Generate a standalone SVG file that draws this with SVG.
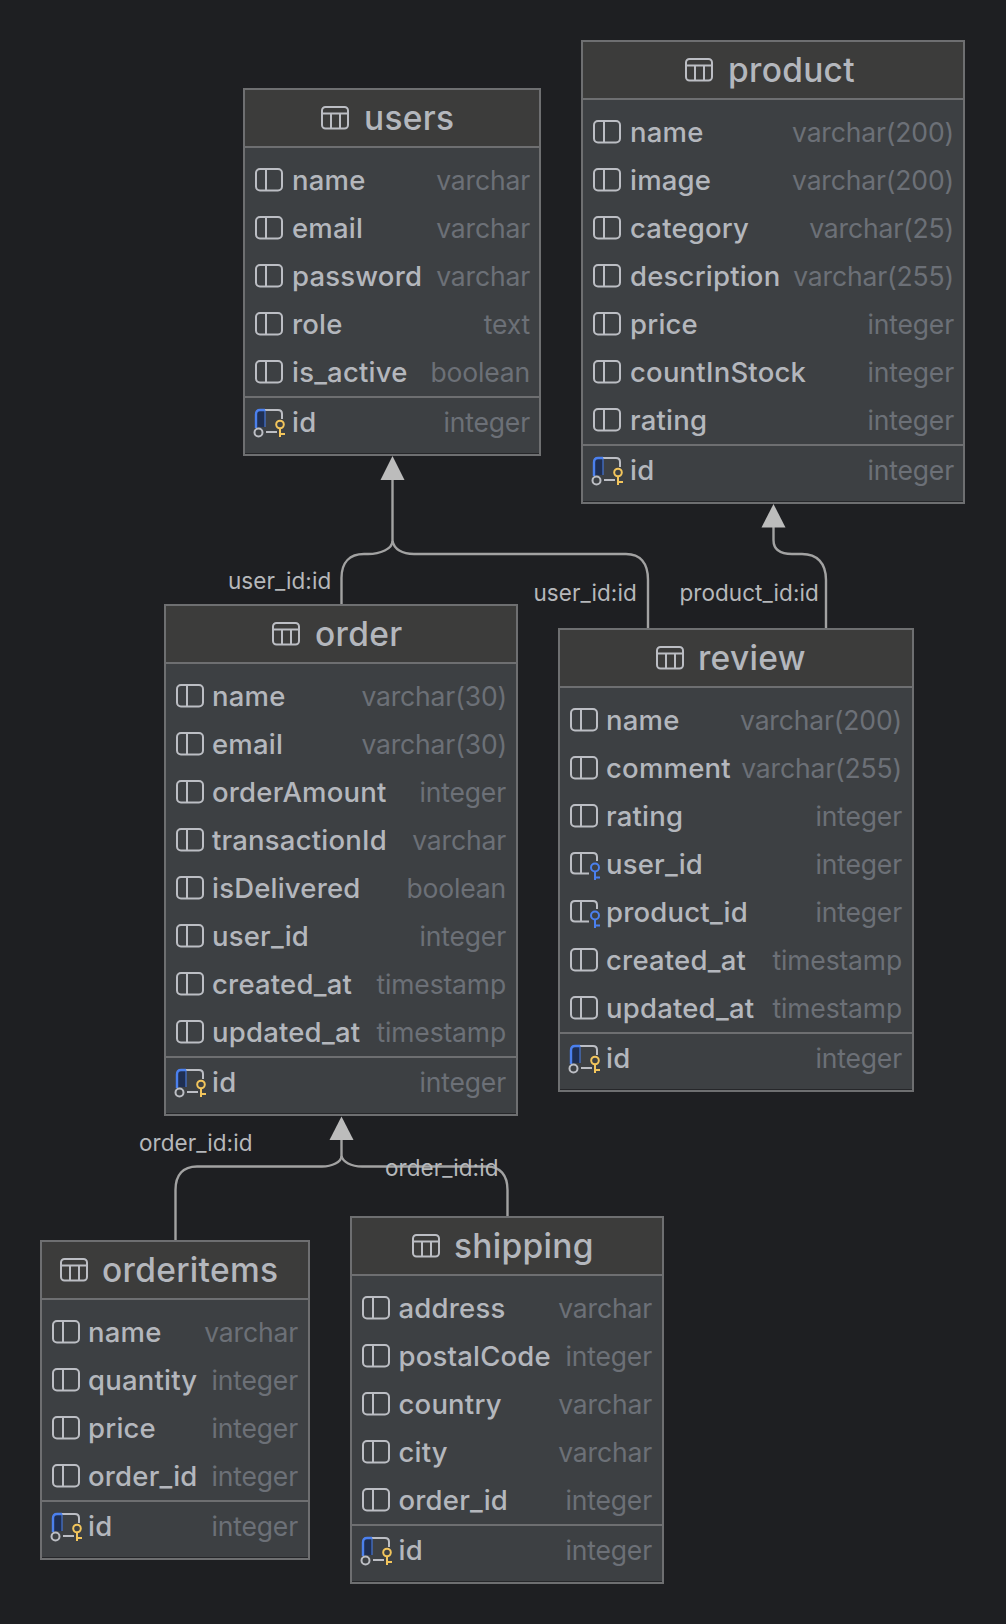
<svg xmlns="http://www.w3.org/2000/svg" width="1006" height="1624" viewBox="0 0 1006 1624">
<style>
text{font-family:Inter,"Liberation Sans",sans-serif}
.box{fill:#3d4043;stroke:#6e6f71;stroke-width:2}
.head{fill:#3c3c3b}
.sep{stroke:#6e6f71;stroke-width:2;fill:none}
.in{stroke:#26272a;stroke-width:1;fill:none}
.title{font-size:33.5px;font-weight:500;fill:#b4b7bd;letter-spacing:.3px}
.n{font-size:27.5px;font-weight:500;fill:#b4b7bd;letter-spacing:.2px}
.t{font-size:26.5px;fill:#6c7077;text-anchor:end;letter-spacing:-.15px}
.ic{fill:none;stroke:#bcbec4;stroke-width:2}
.lbl{font-size:22.5px;fill:#b6b8bb;letter-spacing:.05px}
.edge{fill:none;stroke:#a2a2a2;stroke-width:2.4}
.head-a{fill:#bcbcbc}
</style>
<defs>
<g id="tbl" class="ic"><rect x="1" y="1" width="26" height="21.5" rx="3.5"/><path d="M1 7.500H27M10 7.500V22.500M19 7.500V22.500"/></g>
<g id="col" class="ic"><rect x="1" y="-21" width="26" height="21.500" rx="4"/><path d="M11 -21V0.500"/></g>
<g id="pk"><path d="M0.500 6V-11Q0.500 -16 5 -16H10V1H3Z" fill="#1f2f52"/><path class="ic" d="M10 -16H23Q27 -16 27 -12V-7M11 6H22"/><path d="M1 2V-11.500Q1 -16 5 -16H10" fill="none" stroke="#4b80ee" stroke-width="2.400"/><path d="M10 -16V1" stroke="#4b80ee" stroke-width="1" fill="none"/><circle cx="3.500" cy="6.500" r="4" fill="#3d4043" stroke="#bcbec4" stroke-width="2"/><circle cx="25" cy="-1.500" r="3.800" fill="#3d4043" stroke="#f2c55c" stroke-width="2"/><path d="M25 2.500V11M25 8H30" stroke="#f2c55c" stroke-width="2" fill="none"/></g>
<g id="fk"><path class="ic" d="M27 -13V-17Q27 -21 23 -21H5Q1 -21 1 -17V-4.500Q1 -0.500 5 -0.500H19M11 -21V-0.500"/><circle cx="25" cy="-6.500" r="4" fill="#3d4043" stroke="#4b80ee" stroke-width="2"/><path d="M25 -2.500V6M25 3.500H30" stroke="#4b80ee" stroke-width="2" fill="none"/></g>
</defs>
<rect width="1006" height="1624" fill="#1e1f22"/>

<g id="connectors">
<path class="edge" d="M392.500 480V541C392.500 549 380 554 368 554H364C350 554 341.500 562 341.500 578V604"/>
<path class="edge" d="M392.500 541C394 549 402 554 414 554H626C640 554 648 563 648 580V628"/>
<path class="head-a" d="M392.500 456L404.500 480H380.500Z"/>
<path class="edge" d="M773.500 527V540C773.500 549 780 554 792 554H802C817 554 826 563 826 580V628"/>
<path class="head-a" d="M773.500 504L785.500 527.500H761.500Z"/>
<path class="edge" d="M341.500 1140V1156C341.500 1162 332 1166.500 322 1166.500H197C183 1166.500 175.500 1175 175.500 1190V1240"/>
<path class="edge" d="M341.500 1156C343 1162 351 1166.500 362 1166.500H487C500 1166.500 507.500 1175 507.500 1190V1216"/>
<path class="head-a" d="M341.500 1116.500L353.500 1140H329.500Z"/>
<text class="lbl" x="228" y="589">user_id:id</text>
<text class="lbl" x="533.500" y="601">user_id:id</text>
<text class="lbl" x="679.500" y="601">product_id:id</text>
<text class="lbl" x="139" y="1151">order_id:id</text>
<text class="lbl" x="385" y="1176">order_id:id</text>
</g>

<g id="users">
<rect class="box" x="244" y="89" width="296" height="366"/><rect class="head" x="245" y="90" width="294" height="56"/><path class="sep" d="M245 147H539M245 397H539"/><path class="in" d="M245 453.500H539"/>
<use href="#tbl" x="321" y="106"/><text class="title" x="364" y="130">users</text>
<use href="#col" x="255" y="190"/><text class="n" x="292" y="190">name</text><text class="t" x="530" y="190">varchar</text>
<use href="#col" x="255" y="238"/><text class="n" x="292" y="238">email</text><text class="t" x="530" y="238">varchar</text>
<use href="#col" x="255" y="286"/><text class="n" x="292" y="286">password</text><text class="t" x="530" y="286">varchar</text>
<use href="#col" x="255" y="334"/><text class="n" x="292" y="334">role</text><text class="t" x="530" y="334">text</text>
<use href="#col" x="255" y="382"/><text class="n" x="292" y="382">is_active</text><text class="t" x="530" y="382">boolean</text>
<use href="#pk" x="255" y="426"/><text class="n" x="292" y="432">id</text><text class="t" x="530" y="432">integer</text>
</g>

<g id="product">
<rect class="box" x="582" y="41" width="382" height="462"/><rect class="head" x="583" y="42" width="380" height="56"/><path class="sep" d="M583 99H963M583 445H963"/><path class="in" d="M583 501.500H963"/>
<use href="#tbl" x="685" y="58"/><text class="title" x="728" y="82">product</text>
<use href="#col" x="593" y="142"/><text class="n" x="630" y="142">name</text><text class="t" x="954" y="142">varchar(200)</text>
<use href="#col" x="593" y="190"/><text class="n" x="630" y="190">image</text><text class="t" x="954" y="190">varchar(200)</text>
<use href="#col" x="593" y="238"/><text class="n" x="630" y="238">category</text><text class="t" x="954" y="238">varchar(25)</text>
<use href="#col" x="593" y="286"/><text class="n" x="630" y="286">description</text><text class="t" x="954" y="286">varchar(255)</text>
<use href="#col" x="593" y="334"/><text class="n" x="630" y="334">price</text><text class="t" x="954" y="334">integer</text>
<use href="#col" x="593" y="382"/><text class="n" x="630" y="382">countInStock</text><text class="t" x="954" y="382">integer</text>
<use href="#col" x="593" y="430"/><text class="n" x="630" y="430">rating</text><text class="t" x="954" y="430">integer</text>
<use href="#pk" x="593" y="474"/><text class="n" x="630" y="480">id</text><text class="t" x="954" y="480">integer</text>
</g>

<g id="order">
<rect class="box" x="165" y="605" width="352" height="510"/><rect class="head" x="166" y="606" width="350" height="56"/><path class="sep" d="M166 663H516M166 1057H516"/><path class="in" d="M166 1113.500H516"/>
<use href="#tbl" x="272" y="622"/><text class="title" x="315" y="646">order</text>
<use href="#col" x="176" y="706"/><text class="n" x="212" y="706">name</text><text class="t" x="507" y="706">varchar(30)</text>
<use href="#col" x="176" y="754"/><text class="n" x="212" y="754">email</text><text class="t" x="507" y="754">varchar(30)</text>
<use href="#col" x="176" y="802"/><text class="n" x="212" y="802">orderAmount</text><text class="t" x="506" y="802">integer</text>
<use href="#col" x="176" y="850"/><text class="n" x="212" y="850">transactionId</text><text class="t" x="506" y="850">varchar</text>
<use href="#col" x="176" y="898"/><text class="n" x="212" y="898">isDelivered</text><text class="t" x="506" y="898">boolean</text>
<use href="#col" x="176" y="946"/><text class="n" x="212" y="946">user_id</text><text class="t" x="506" y="946">integer</text>
<use href="#col" x="176" y="994"/><text class="n" x="212" y="994">created_at</text><text class="t" x="506" y="994">timestamp</text>
<use href="#col" x="176" y="1042"/><text class="n" x="212" y="1042">updated_at</text><text class="t" x="506" y="1042">timestamp</text>
<use href="#pk" x="176" y="1086"/><text class="n" x="212" y="1092">id</text><text class="t" x="506" y="1092">integer</text>
</g>

<g id="review">
<rect class="box" x="559" y="629" width="354" height="462"/><rect class="head" x="560" y="630" width="352" height="56"/><path class="sep" d="M560 687H912M560 1033H912"/><path class="in" d="M560 1089.500H912"/>
<use href="#tbl" x="656" y="646"/><text class="title" x="698" y="670">review</text>
<use href="#col" x="570" y="730"/><text class="n" x="606" y="730">name</text><text class="t" x="902" y="730">varchar(200)</text>
<use href="#col" x="570" y="778"/><text class="n" x="606" y="778">comment</text><text class="t" x="902" y="778">varchar(255)</text>
<use href="#col" x="570" y="826"/><text class="n" x="606" y="826">rating</text><text class="t" x="902" y="826">integer</text>
<use href="#fk" x="570" y="874"/><text class="n" x="606" y="874">user_id</text><text class="t" x="902" y="874">integer</text>
<use href="#fk" x="570" y="922"/><text class="n" x="606" y="922">product_id</text><text class="t" x="902" y="922">integer</text>
<use href="#col" x="570" y="970"/><text class="n" x="606" y="970">created_at</text><text class="t" x="902" y="970">timestamp</text>
<use href="#col" x="570" y="1018"/><text class="n" x="606" y="1018">updated_at</text><text class="t" x="902" y="1018">timestamp</text>
<use href="#pk" x="570" y="1062"/><text class="n" x="606" y="1068">id</text><text class="t" x="902" y="1068">integer</text>
</g>

<g id="orderitems">
<rect class="box" x="41" y="1241" width="268" height="318"/><rect class="head" x="42" y="1242" width="266" height="56"/><path class="sep" d="M42 1299H308M42 1501H308"/><path class="in" d="M42 1557.500H308"/>
<use href="#tbl" x="60" y="1258"/><text class="title" x="102" y="1282">orderitems</text>
<use href="#col" x="52" y="1342"/><text class="n" x="88" y="1342">name</text><text class="t" x="298" y="1342">varchar</text>
<use href="#col" x="52" y="1390"/><text class="n" x="88" y="1390">quantity</text><text class="t" x="298" y="1390">integer</text>
<use href="#col" x="52" y="1438"/><text class="n" x="88" y="1438">price</text><text class="t" x="298" y="1438">integer</text>
<use href="#col" x="52" y="1486"/><text class="n" x="88" y="1486">order_id</text><text class="t" x="298" y="1486">integer</text>
<use href="#pk" x="52" y="1530"/><text class="n" x="88" y="1536">id</text><text class="t" x="298" y="1536">integer</text>
</g>

<g id="shipping">
<rect class="box" x="351" y="1217" width="312" height="366"/><rect class="head" x="352" y="1218" width="310" height="56"/><path class="sep" d="M352 1275H662M352 1525H662"/><path class="in" d="M352 1581.500H662"/>
<use href="#tbl" x="412" y="1234"/><text class="title" x="454" y="1258">shipping</text>
<use href="#col" x="362" y="1318"/><text class="n" x="398.500" y="1318">address</text><text class="t" x="652" y="1318">varchar</text>
<use href="#col" x="362" y="1366"/><text class="n" x="398.500" y="1366">postalCode</text><text class="t" x="652" y="1366">integer</text>
<use href="#col" x="362" y="1414"/><text class="n" x="398.500" y="1414">country</text><text class="t" x="652" y="1414">varchar</text>
<use href="#col" x="362" y="1462"/><text class="n" x="398.500" y="1462">city</text><text class="t" x="652" y="1462">varchar</text>
<use href="#col" x="362" y="1510"/><text class="n" x="398.500" y="1510">order_id</text><text class="t" x="652" y="1510">integer</text>
<use href="#pk" x="362" y="1554"/><text class="n" x="398.500" y="1560">id</text><text class="t" x="652" y="1560">integer</text>
</g>
</svg>
